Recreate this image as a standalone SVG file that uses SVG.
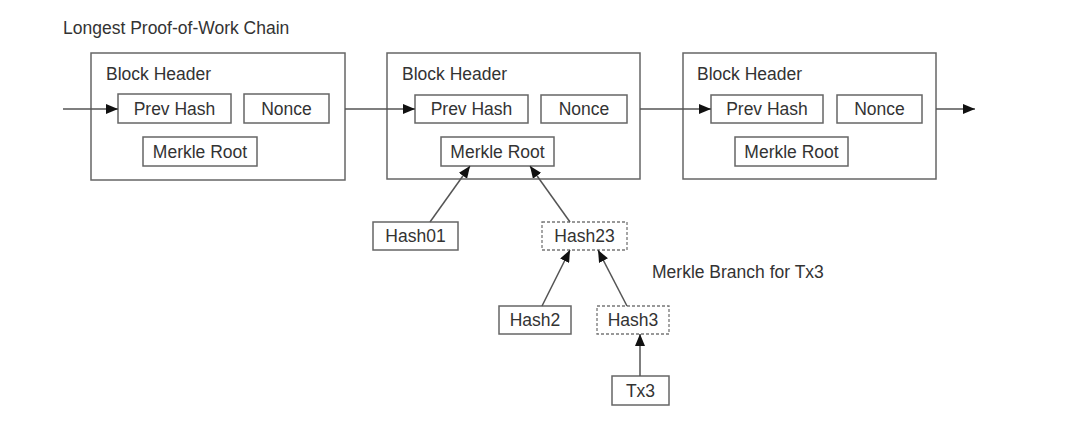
<svg xmlns="http://www.w3.org/2000/svg" width="1067" height="442" viewBox="0 0 1067 442">
<style>
text{font-family:"Liberation Sans",Arial,sans-serif;font-size:17.5px;fill:#333}
.box{fill:#fff;stroke:#666;stroke-width:1.5}
.dash{fill:#fff;stroke:#777;stroke-width:1.3;stroke-dasharray:3 2}
.c{text-anchor:middle}
.ln{stroke:#555;stroke-width:1.5;fill:none;marker-end:url(#ah)}
</style>
<defs>
<marker id="ah" viewBox="0 0 12 10" refX="12" refY="5" markerWidth="12" markerHeight="10" markerUnits="userSpaceOnUse" orient="auto">
<path d="M0,0 L12,5 L0,10 z" fill="#111"/>
</marker>
</defs>
<rect width="1067" height="442" fill="#fff"/>
<text x="63" y="34">Longest Proof-of-Work Chain</text>
<g id="block1">
<rect class="box" x="91" y="53" width="254" height="127"/>
<text x="106" y="80">Block Header</text>
<rect class="box" x="118" y="94" width="113" height="29"/><text class="c" x="174.5" y="115">Prev Hash</text>
<rect class="box" x="244" y="94" width="85" height="29"/><text class="c" x="286.5" y="115">Nonce</text>
<rect class="box" x="143" y="137" width="114" height="29"/><text class="c" x="200" y="158">Merkle Root</text>
</g>
<g id="block2">
<rect class="box" x="387" y="53" width="253" height="126"/>
<text x="402" y="80">Block Header</text>
<rect class="box" x="415" y="95" width="113" height="28"/><text class="c" x="471.5" y="115">Prev Hash</text>
<rect class="box" x="541" y="95" width="86" height="28"/><text class="c" x="584" y="115">Nonce</text>
<rect class="box" x="441" y="137" width="113" height="29"/><text class="c" x="497.5" y="158">Merkle Root</text>
</g>
<g id="block3">
<rect class="box" x="683" y="53" width="253" height="126"/>
<text x="697" y="80">Block Header</text>
<rect class="box" x="711" y="95" width="112" height="28"/><text class="c" x="767" y="115">Prev Hash</text>
<rect class="box" x="837" y="95" width="85" height="28"/><text class="c" x="879.5" y="115">Nonce</text>
<rect class="box" x="735" y="137" width="113" height="29"/><text class="c" x="791.5" y="158">Merkle Root</text>
</g>
<g id="hash01"><rect class="box" x="373" y="222" width="85" height="28"/><text class="c" x="415.5" y="242">Hash01</text></g>
<g id="hash23"><rect class="dash" x="542" y="222" width="85" height="28"/><text class="c" x="584.5" y="242">Hash23</text></g>
<g id="hash2"><rect class="box" x="499" y="306" width="72" height="28"/><text class="c" x="535" y="326">Hash2</text></g>
<g id="hash3"><rect class="dash" x="597" y="306" width="72" height="28"/><text class="c" x="633" y="326">Hash3</text></g>
<g id="tx3"><rect class="box" x="612" y="376" width="57" height="29"/><text class="c" x="640.5" y="397">Tx3</text></g>
<text x="652" y="278">Merkle Branch for Tx3</text>
<g id="connectors">
<line class="ln" x1="63" y1="109" x2="118" y2="109"/>
<line class="ln" x1="345" y1="109" x2="415" y2="109"/>
<line class="ln" x1="640" y1="109" x2="711" y2="109"/>
<line class="ln" x1="936" y1="109" x2="975" y2="109"/>
<line class="ln" x1="430" y1="222" x2="470" y2="166"/>
<line class="ln" x1="570" y1="222" x2="530" y2="166"/>
<line class="ln" x1="542" y1="306" x2="570" y2="250"/>
<line class="ln" x1="627" y1="306" x2="598" y2="250"/>
<line class="ln" x1="640" y1="376" x2="640" y2="334"/>
</g>
</svg>
